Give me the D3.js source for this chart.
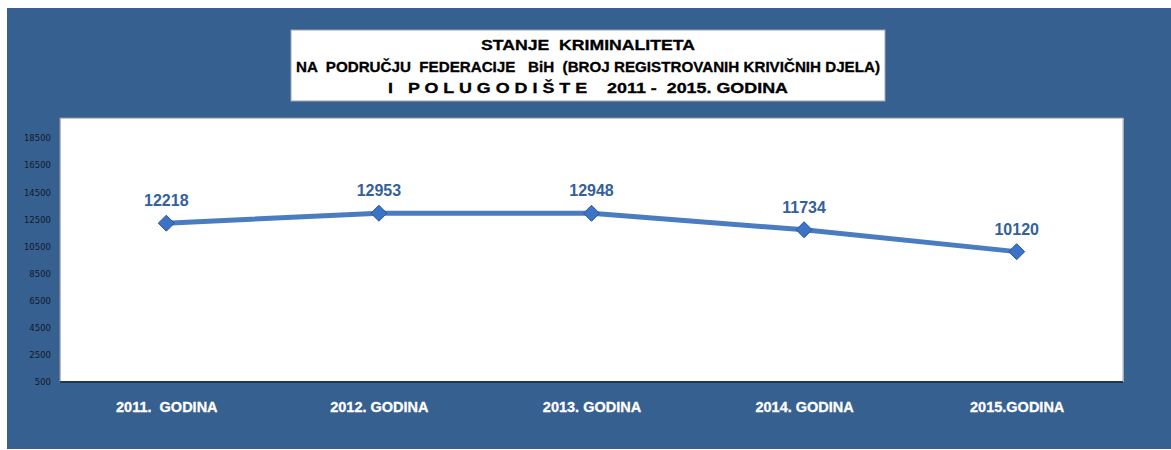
<!DOCTYPE html>
<meta charset="utf-8">
<script src="https://d3js.org/d3.v7.min.js"></script>
<style>
  body { margin: 0; background: #fff; }
  svg { display: block; }
  text { white-space: pre; }
</style>
<div id="chart"></div>
<script>
  // chart data
  var years = ["2011.  GODINA", "2012. GODINA", "2013. GODINA", "2014. GODINA", "2015.GODINA"];
  var crimes = [12218, 12953, 12948, 11734, 10120];
  var yTicks = [500, 2500, 4500, 6500, 8500, 10500, 12500, 14500, 16500, 18500];
  var titleLines = [
    "STANJE  KRIMINALITETA",
    "NA  PODRUČJU  FEDERACIJE   BiH  (BROJ REGISTROVANIH KRIVIČNIH DJELA)",
    "I   P O L U G O D I Š T E    2011 -  2015. GODINA"
  ];

  var W = 1171, H = 450;
  var plot = {left: 60, top: 118, right: 1123, bottom: 382};

  var svg = d3.select("#chart").append("svg")
    .attr("width", W).attr("height", H);

  // blue backdrop
  svg.append("rect")
    .attr("x", 7).attr("y", 8)
    .attr("width", W - 7).attr("height", 441)
    .attr("fill", "#36608f");

  // title box
  svg.append("rect")
    .attr("x", 291).attr("y", 30)
    .attr("width", 594).attr("height", 71)
    .attr("fill", "#fff")
    .attr("stroke", "#9aa4b0").attr("stroke-width", 1);

  var titleY = [50, 72, 93];
  var titleW = [214, 584, 400];
  svg.selectAll(".title")
    .data(titleLines)
    .enter()
    .append("text")
      .attr("x", 588)
      .attr("y", function(d, i) { return titleY[i]; })
      .attr("text-anchor", "middle")
      .attr("textLength", function(d, i) { return titleW[i]; })
      .attr("lengthAdjust", "spacingAndGlyphs")
      .style("font-family", "Liberation Sans, Arial, sans-serif")
      .style("font-weight", "bold")
      .style("font-size", "14.5px")
      .attr("fill", "#000")
      .attr("stroke", "#000").attr("stroke-width", 0.3)
      .text(function(d) { return d; });

  // plot area
  svg.append("rect")
    .attr("x", plot.left).attr("y", plot.top)
    .attr("width", plot.right - plot.left).attr("height", plot.bottom - plot.top)
    .attr("fill", "#fff");
  svg.append("path")
    .attr("d", "M" + plot.left + "," + plot.bottom + "V" + plot.top + "H" + plot.right)
    .attr("fill", "none").attr("stroke", "#8a8f96").attr("stroke-width", 1.2);
  svg.append("line")
    .attr("x1", plot.right).attr("x2", plot.right)
    .attr("y1", plot.top).attr("y2", plot.bottom)
    .attr("stroke", "#c8c8c8").attr("stroke-width", 1.5);
  svg.append("line")
    .attr("x1", plot.left).attr("x2", plot.right)
    .attr("y1", plot.bottom).attr("y2", plot.bottom)
    .attr("stroke", "#1f3556").attr("stroke-width", 2);

  var x = d3.scalePoint()
    .domain(years)
    .range([plot.left, plot.right])
    .padding(0.5);

  var y = d3.scaleLinear()
    .domain([500, 19980])
    .range([plot.bottom, plot.top]);

  // y axis
  var yAxis = svg.append("g")
    .attr("transform", "translate(" + plot.left + ",0)")
    .call(d3.axisLeft(y).tickValues(yTicks).tickFormat(d3.format("d")).tickSize(0).tickPadding(9));
  yAxis.select(".domain").remove();
  yAxis.selectAll("text")
    .style("font-family", "DejaVu Sans, sans-serif")
    .style("font-size", "8.5px")
    .attr("fill", "#111a2a");

  // x axis labels
  var xAxis = svg.append("g")
    .attr("transform", "translate(0," + plot.bottom + ")")
    .call(d3.axisBottom(x).tickSize(0).tickPadding(20));
  xAxis.select(".domain").remove();
  xAxis.selectAll("text")
    .style("font-family", "Liberation Sans, Arial, sans-serif")
    .style("font-weight", "bold")
    .style("font-size", "14.5px")
    .attr("fill", "#fff")
    .attr("stroke", "#fff").attr("stroke-width", 0.3);

  var pts = years.map(function(d, i) { return {cat: d, value: crimes[i]}; });

  // line
  svg.append("path")
    .datum(pts)
    .attr("fill", "none")
    .attr("stroke", "#4a7cc1")
    .attr("stroke-width", 5)
    .attr("d", d3.line()
      .x(function(d) { return x(d.cat); })
      .y(function(d) { return y(d.value); }));

  // diamond markers
  svg.selectAll(".mark")
    .data(pts)
    .enter()
    .append("path")
      .attr("transform", function(d) { return "translate(" + x(d.cat) + "," + y(d.value) + ")"; })
      .attr("d", "M0,-8L8,0L0,8L-8,0Z")
      .attr("fill", "#3b73c6")
      .attr("stroke", "#2b5496")
      .attr("stroke-width", 1);

  // value labels
  svg.selectAll(".lbl")
    .data(pts)
    .enter()
    .append("text")
      .attr("x", function(d) { return x(d.cat); })
      .attr("y", function(d) { return y(d.value) - 17; })
      .attr("text-anchor", "middle")
      .style("font-family", "Liberation Sans, Arial, sans-serif")
      .style("font-weight", "bold")
      .style("font-size", "16px")
      .attr("fill", "#35609a")
      .text(function(d) { return d.value; });
</script>
